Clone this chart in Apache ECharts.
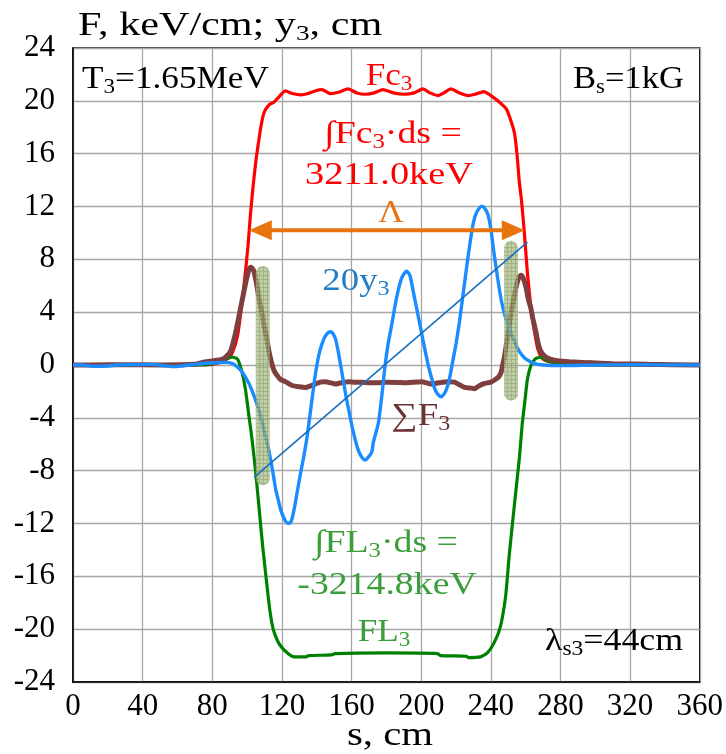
<!DOCTYPE html>
<html>
<head>
<meta charset="utf-8">
<script src="https://cdn.jsdelivr.net/npm/echarts@6.0.0/dist/echarts.min.js"></script>
<style>
  html, body { margin: 0; padding: 0; background: #ffffff; }
  #chart { width: 726px; height: 754px; }
</style>
</head>
<body>
<div id="chart"></div>
<script>
// Path coordinate s (cm) and values for each curve
const fcS = [0, 40, 70, 80, 85, 89, 91.6, 94.5, 97, 99, 100.5, 102, 103.5, 105, 106.5, 108, 109.7, 112.6, 115.4, 118.3, 122, 126, 131, 135, 139, 143, 147.8, 152.5, 158, 163, 168, 173, 178, 184, 190, 196, 201, 205, 209.7, 213, 217, 222, 227, 231, 236, 240, 244, 248.8, 251, 253.5, 255, 256.4, 257.5, 259.2, 261, 262.5, 264, 265.5, 267, 269, 271, 277, 285, 300, 360];
const fcV = [0, 0, 0.02, 0.05, 0.2, 0.5, 0.96, 2.2, 4.6, 7.0, 9.0, 11.5, 13.6, 15.4, 16.8, 18.1, 19.1, 19.7, 19.9, 20.3, 20.75, 20.55, 20.45, 20.55, 20.75, 20.85, 20.55, 20.65, 20.9, 20.6, 20.5, 20.6, 20.85, 20.6, 20.5, 20.6, 20.9, 20.6, 20.4, 20.6, 20.9, 20.6, 20.4, 20.5, 20.7, 20.4, 20.0, 19.4, 18.7, 17.6, 16.0, 13.8, 12.6, 10.1, 7.0, 5.0, 3.4, 2.2, 1.2, 0.6, 0.35, 0.15, 0.05, 0, 0];

const flS = [0, 40, 75, 80, 85, 88, 91.5, 94.5, 97, 99, 101, 103, 105, 107, 109, 111, 113, 115, 117.5, 120, 124, 127, 133.5, 135.5, 148.5, 150.5, 180, 209.5, 211, 226, 227, 234, 238, 242, 245.5, 248.5, 250.5, 252.5, 254.5, 256.5, 258, 259.5, 261, 263, 265.5, 268.5, 272.5, 278, 285, 290, 360];
const flV = [0, 0, 0, 0.1, 0.3, 0.45, 0.6, 0.45, -0.5, -1.8, -3.8, -5.8, -8.2, -11, -13.8, -16.2, -18.5, -20, -20.9, -21.4, -21.9, -22.1, -22.1, -22.0, -21.95, -21.85, -21.8, -21.85, -22.0, -22.05, -22.15, -22.1, -21.8, -21, -19.8, -17.5, -14.5, -11.9, -9.4, -6.9, -4.5, -2.8, -1.1, -0.05, 0.45, 0.6, 0.33, 0.15, 0.05, 0, 0];

const sumS = [0, 10, 30, 50, 70, 74.5, 80, 86, 88.5, 90.7, 92, 93.5, 95.5, 97.3, 99, 100.2, 101, 102.1, 103, 104, 105.5, 106.9, 108.8, 109.7, 111, 112.6, 114, 115.4, 117, 119.2, 122, 125.9, 130, 133.5, 136, 139.2, 142, 145, 148, 150.7, 154, 158.3, 162, 166, 170, 175, 180, 186.9, 190.7, 195, 200.2, 205.9, 210, 215.4, 219.2, 222, 224.9, 228.8, 230.6, 233, 236.4, 240, 243, 244.5, 245.9, 246.8, 247.8, 249, 250.7, 252, 253.5, 254.5, 256, 257.3, 258.5, 260.2, 261.5, 263, 264, 265.9, 266.9, 268.5, 270.7, 274, 278.3, 285, 295.5, 310, 330, 360];
const sumV = [0, 0, 0.02, 0, 0.05, 0.2, 0.3, 0.45, 0.7, 1.1, 1.7, 2.5, 3.8, 5.0, 6.1, 6.8, 7.2, 7.4, 7.3, 7.05, 6.1, 5.0, 3.8, 3.0, 2.2, 1.0, 0.2, -0.4, -0.75, -1.1, -1.26, -1.55, -1.65, -1.7, -1.6, -1.44, -1.3, -1.26, -1.35, -1.44, -1.35, -1.26, -1.3, -1.3, -1.35, -1.35, -1.3, -1.32, -1.35, -1.3, -1.26, -1.44, -1.35, -1.26, -1.3, -1.5, -1.7, -1.75, -1.8, -1.6, -1.4, -1.3, -1.06, -0.9, -0.56, 0, 0.6, 1.6, 3.1, 4.2, 5.2, 5.9, 6.6, 6.8, 6.6, 5.9, 5.0, 4.3, 3.6, 2.5, 1.8, 1.1, 0.7, 0.45, 0.33, 0.25, 0.18, 0.1, 0.05, 0];

// 20*y3 (cm scaled by 20)
const yS = [0, 5, 11.6, 20, 25, 34, 45, 52, 57, 62, 66, 72, 78, 84, 87.8, 91.6, 94, 96.4, 98.5, 101.1, 103, 105, 107, 108.8, 110.5, 112.2, 114.5, 116.4, 117.3, 119.2, 120.2, 122, 123.5, 125, 125.9, 127.5, 128.8, 130.7, 132.6, 134.5, 137.3, 139, 141.1, 143, 145, 147.3, 148.5, 150.7, 152.5, 154.5, 157, 160.2, 162, 164, 166, 167.8, 169.5, 171.6, 172.6, 175.4, 177.5, 179.2, 181, 183, 185, 186.9, 188.8, 190.7, 191.6, 193.5, 196, 198.3, 201, 204, 206, 207.8, 209.5, 211.6, 214, 216, 218, 220, 222, 224, 226, 228, 230, 232, 234.5, 236, 238.3, 240, 242, 244, 246, 248, 250, 253.5, 256, 259.2, 262, 265, 270, 280, 300, 320, 360];
const yV = [0, 0, -0.1, -0.08, 0, 0.02, 0.05, -0.05, -0.12, -0.08, 0, 0.08, 0.15, 0.18, 0.2, 0.1, -0.1, -0.4, -0.8, -1.4, -2.0, -2.7, -3.5, -4.4, -5.4, -6.3, -7.9, -9.4, -9.9, -10.9, -11.3, -11.8, -12.0, -11.9, -11.6, -10.6, -9.6, -8.2, -6.9, -5.4, -2.6, -0.9, 0.7, 1.6, 2.2, 2.5, 2.5, 2.0, 0.9, -0.6, -2.5, -4.6, -5.6, -6.5, -7.0, -7.2, -7.0, -6.6, -5.8, -4.4, -2.2, -0.1, 1.6, 3.0, 4.5, 5.7, 6.6, 7.0, 7.1, 6.8, 5.2, 3.7, 1.9, 0.0, -1.0, -1.8, -2.2, -2.4, -2.0, -1.2, 0.2, 1.6, 3.3, 5.3, 7.3, 9.2, 10.8, 11.6, 12.0, 11.95, 11.4, 10.3, 8.3, 6.5, 4.9, 3.8, 3.0, 1.8, 1.1, 0.55, 0.3, 0.1, 0.0, -0.05, 0, 0.02, 0];

// straight trend through the oscillation
const trendS = [104, 261];
const trendV = [-8.5, 9.3];

// shaded edge regions: centre s, lower and upper value
const bandS = [109, 251.6];
const bandLow = [-9.1, -2.7];
const bandHigh = [7.5, 9.4];

// period arrow Λ: start s, end s, level
const arrowS = [101, 259.5];
const arrowV = 10.2;

// axis ticks
const xTicks = [0, 40, 80, 120, 160, 200, 240, 280, 320, 360];
const yTicks = [-24, -20, -16, -12, -8, -4, 0, 4, 8, 12, 16, 20, 24];

const FONT = 'Liberation Serif';
const RED = '#FF0000';
const GREEN_LINE = '#008000';
const GREEN_TEXT = '#3A9E3A';
const BROWN_LINE = '#7F3F3F';
const BROWN_TEXT = '#6B3232';
const BLUE_LINE = '#1A8CFF';
const BLUE_TEXT = '#1F7DC8';
const TREND = '#1570C0';
const ORANGE = '#E8740F';

const zip = (a, b) => a.map((v, i) => [v, b[i]]);

// hatched fill for the shaded regions
const pc = document.createElement('canvas');
pc.width = 4; pc.height = 4;
const pg = pc.getContext('2d');
pg.fillStyle = '#A6BA84';
pg.fillRect(0, 0, 4, 4);
pg.fillStyle = '#7E9658';
pg.fillRect(3, 0, 1, 4);
pg.fillRect(0, 3, 4, 1);

function lineSeries(name, s, v, color, width, z) {
  return {
    name, type: 'line', data: zip(s, v), showSymbol: false, smooth: 0.2,
    lineStyle: { color, width }, itemStyle: { color }, z, animation: false
  };
}

// rich text label: main size 32, subscripts about two thirds of it
function label(text, x, baseline, color, align, sx, size) {
  const fs = size || 32;
  const lh = fs + 4;
  const base = lh / 2 + 0.35 * fs;
  return {
    type: 'text', x, y: baseline - base, scaleX: sx || 1.15, z: 100,
    style: {
      text, fill: color, fontFamily: FONT, fontSize: fs,
      lineHeight: lh, align: align || 'left', verticalAlign: 'top',
      rich: {
        s: { fontFamily: FONT, fontSize: Math.round(fs * 0.66), lineHeight: 16, verticalAlign: 'bottom', fill: color }
      }
    }
  };
}

// tick labels go through a rich style so the serif face and size are explicit
const tickRich = { t: { color: '#000', fontFamily: FONT, fontSize: 31, lineHeight: 32 } };
const tickLabel = (margin) => ({
  margin, hideOverlap: false, color: '#000', fontFamily: FONT, fontSize: 31,
  formatter: (v) => '{t|' + v + '}', rich: tickRich
});

const chart = echarts.init(document.getElementById('chart'), null, { renderer: 'canvas' });

chart.setOption({
  animation: false,
  backgroundColor: '#ffffff',
  textStyle: { fontFamily: FONT, fontSize: 31, color: '#000' },
  grid: { left: 73, right: 23, top: 48, bottom: 72, show: true, borderColor: '#000', borderWidth: 1.5, backgroundColor: 'transparent', containLabel: false },
  xAxis: {
    type: 'value', min: xTicks[0], max: xTicks[xTicks.length - 1], interval: 40,
    axisLine: { onZero: false, lineStyle: { color: '#000', width: 1.5 } },
    axisTick: { show: false },
    axisLabel: tickLabel(9),
    splitLine: { lineStyle: { color: '#A6A6A6', width: 1.3 } }
  },
  yAxis: {
    type: 'value', min: yTicks[0], max: yTicks[yTicks.length - 1], interval: 4,
    axisLine: { show: true, lineStyle: { color: '#000', width: 1.5 } },
    axisTick: { show: false },
    axisLabel: tickLabel(18),
    splitLine: { lineStyle: { color: '#A6A6A6', width: 1.3 } }
  },
  series: [
    lineSeries('Fc3', fcS, fcV, RED, 3.2, 2),
    lineSeries('FL3', flS, flV, GREEN_LINE, 3.2, 3),
    lineSeries('ΣF3', sumS, sumV, BROWN_LINE, 5, 4),
    lineSeries('20y3', yS, yV, BLUE_LINE, 3.4, 5),
    {
      type: 'custom', z: 6, animation: false,
      data: bandS.map((s, i) => [s, bandLow[i], bandHigh[i]]),
      encode: { x: 0, y: [1, 2] },
      renderItem(params, api) {
        const top = api.coord([api.value(0), api.value(2)]);
        const bot = api.coord([api.value(0), api.value(1)]);
        const w = 14;
        return {
          type: 'rect',
          shape: { x: top[0] - w / 2, y: top[1], width: w, height: bot[1] - top[1], r: 7 },
          style: { fill: { image: pc, repeat: 'repeat' }, opacity: 0.72 }
        };
      }
    },
    {
      type: 'line', z: 7, data: zip(trendS, trendV), showSymbol: false,
      lineStyle: { color: TREND, width: 1.6 }, animation: false
    },
    {
      type: 'custom', z: 8, animation: false,
      data: [[arrowS[0], arrowS[1], arrowV]],
      encode: { x: [0, 1], y: 2 },
      renderItem(params, api) {
        const a = api.coord([api.value(0), api.value(2)]);
        const b = api.coord([api.value(1), api.value(2)]);
        const L = 23, H = 10;
        return {
          type: 'group',
          children: [
            { type: 'line', shape: { x1: a[0] + L - 2, y1: a[1], x2: b[0] - L + 2, y2: b[1] }, style: { stroke: ORANGE, lineWidth: 4 } },
            { type: 'polygon', shape: { points: [[a[0], a[1]], [a[0] + L, a[1] - H], [a[0] + L, a[1] + H]] }, style: { fill: ORANGE } },
            { type: 'polygon', shape: { points: [[b[0], b[1]], [b[0] - L, b[1] - H], [b[0] - L, b[1] + H]] }, style: { fill: ORANGE } }
          ]
        };
      }
    }
  ],
  graphic: [
    label('F, keV/cm; y{s|3}, cm', 78, 38, '#000', 'left', 1.24, 34),
    label('s, cm', 390, 748, '#000', 'center', 1.2, 34),
    label('T{s|3}=1.65MeV', 82, 91, '#000', 'left', 1.1),
    label('Fc{s|3}', 389, 88, RED, 'center', 1.1),
    label('B{s|s}=1kG', 573, 91, '#000', 'left', 1.08),
    label('∫Fc{s|3}·ds =', 393, 146, RED, 'center', 1.18),
    label('3211.0keV', 389, 187, RED, 'center', 1.2),
    label('Λ', 391, 225, ORANGE, 'center', 1.1),
    label('20y{s|3}', 356, 293, BLUE_TEXT, 'center', 1.15),
    label('∑F{s|3}', 421, 428, BROWN_TEXT, 'center', 1.15),
    label('∫FL{s|3}·ds =', 386, 555, GREEN_TEXT, 'center', 1.18),
    label('-3214.8keV', 387, 597, GREEN_TEXT, 'center', 1.18),
    label('FL{s|3}', 384, 644, GREEN_TEXT, 'center', 1.1),
    label('λ{s|s3}=44cm', 545, 653, '#000', 'left', 1.12)
  ]
});
</script>
</body>
</html>
